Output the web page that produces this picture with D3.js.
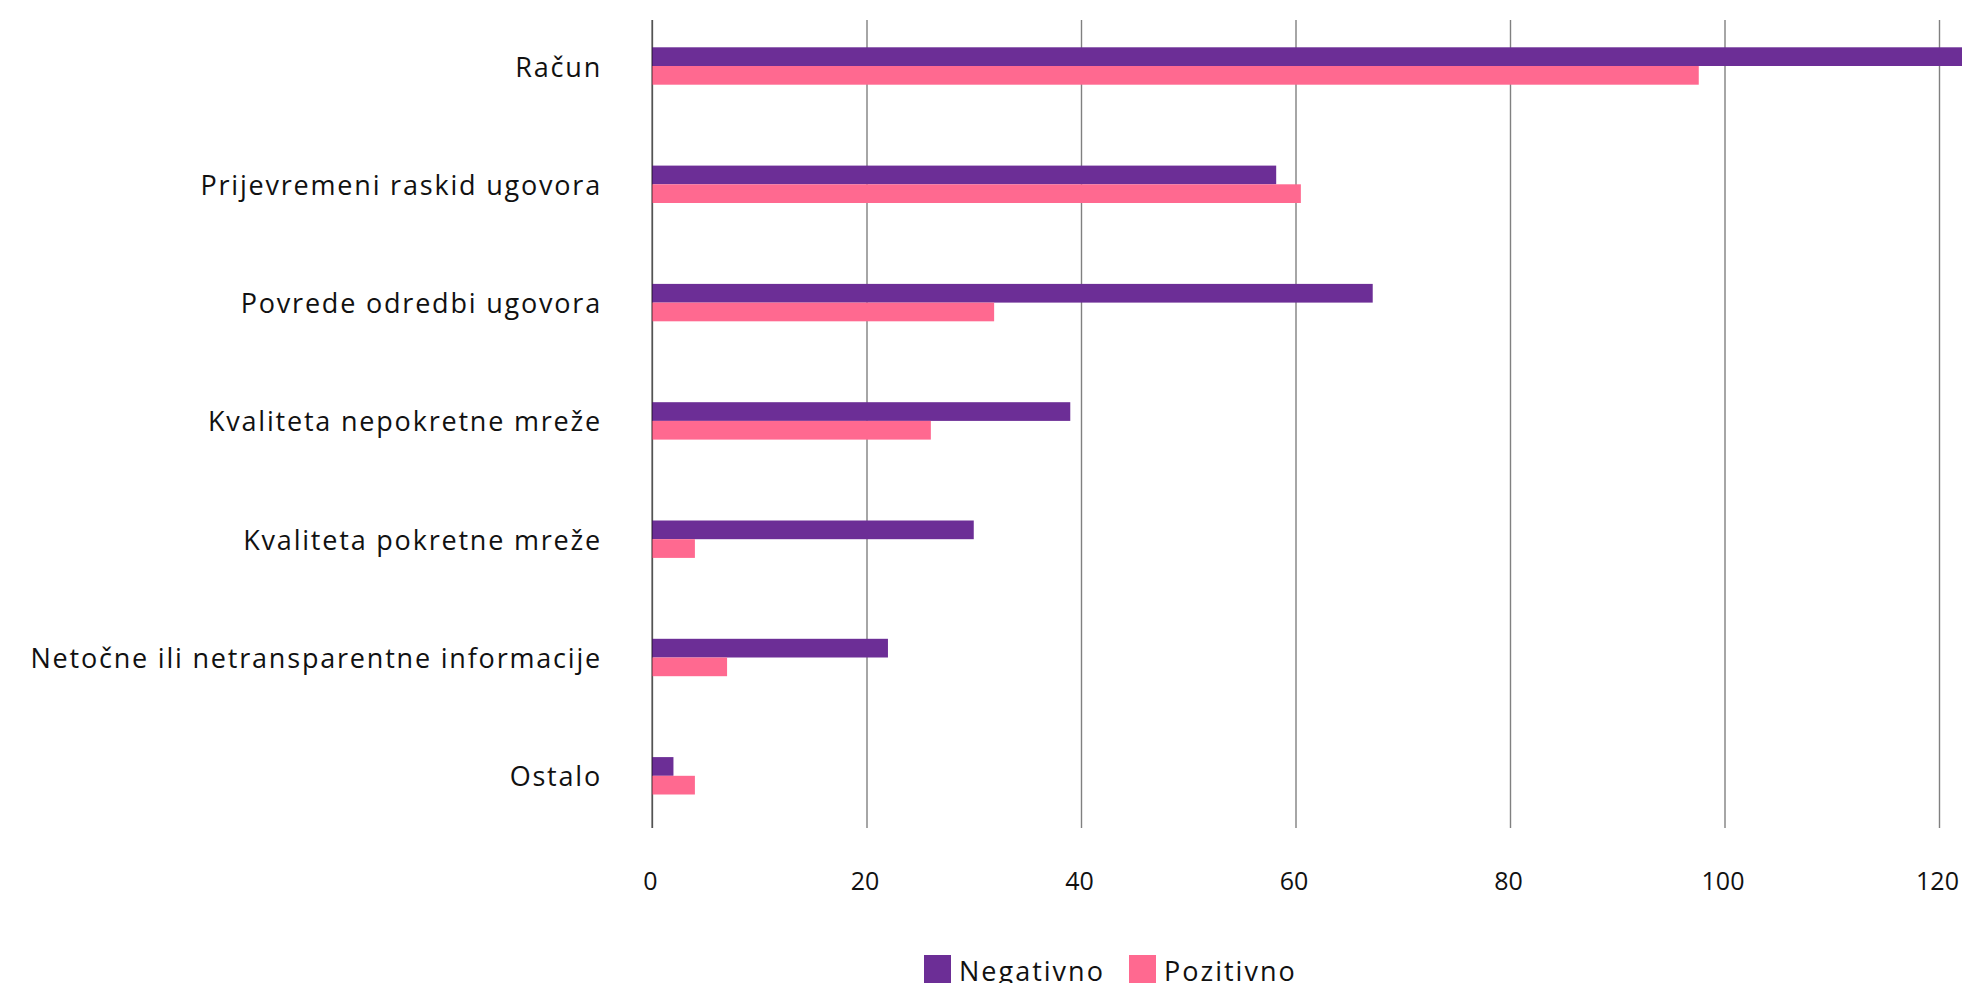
<!DOCTYPE html>
<html>
<head>
<meta charset="utf-8">
<script src="https://cdn.jsdelivr.net/npm/d3@7"></script>
<style>
  html, body { margin: 0; padding: 0; background: #ffffff; }
  svg { display: block; }
  text { font-family: "Open Sans", "Noto Sans", sans-serif; fill: #111111; }
</style>
</head>
<body>
<svg id="chart" width="1962" height="983"></svg>
<script>
const categories = [
  "Račun",
  "Prijevremeni raskid ugovora",
  "Povrede odredbi ugovora",
  "Kvaliteta nepokretne mreže",
  "Kvaliteta pokretne mreže",
  "Netočne ili netransparentne informacije",
  "Ostalo"
];
const seriesNames = ["Negativno", "Pozitivno"];
const negativno = [125, 58.2, 67.2, 39, 30, 22, 2];
const pozitivno = [97.6, 60.5, 31.9, 26, 4, 7, 4];
const tickValues = [0, 20, 40, 60, 80, 100, 120];
const colors = ["#6c2e96", "#ff6990"];

const svg = d3.select("#chart");

const x = d3.scaleLinear().domain([0, 120]).range([652, 1939]);
const y = d3.scaleBand().domain(categories).range([6.85, 834.95]).padding(0);
const groupH = 37.4;
const ySub = d3.scaleBand().domain(seriesNames)
  .range([(y.bandwidth() - groupH) / 2, (y.bandwidth() + groupH) / 2]).padding(0);

const gridTop = 20, gridBottom = 828;

// gridlines + tick labels
const axis = d3.axisBottom(x).tickValues(tickValues).tickSize(-(gridBottom - gridTop))
  .tickPadding(44).tickFormat(d3.format("d"));
const gAxis = svg.append("g").attr("transform", `translate(0,${gridBottom})`).call(axis);
gAxis.select(".domain").remove();
gAxis.selectAll(".tick line").attr("stroke", "#808080").attr("stroke-width", 1.4);
gAxis.selectAll(".tick text").attr("font-size", 25).attr("fill", "#111")
  .style("font-family", "'Open Sans', sans-serif").attr("dx", -2);

// bars
const data = categories.map((c, i) => ({ cat: c, vals: [negativno[i], pozitivno[i]] }));
const groups = svg.append("g").selectAll("g").data(data).join("g")
  .attr("transform", d => `translate(0,${y(d.cat)})`);
groups.selectAll("rect").data(d => d.vals.map((v, j) => ({ s: seriesNames[j], v, j })))
  .join("rect")
  .attr("x", x(0))
  .attr("y", d => ySub(d.s))
  .attr("width", d => x(d.v) - x(0))
  .attr("height", ySub.bandwidth())
  .attr("fill", d => colors[d.j]);

// zero line on top of bars
svg.append("line")
  .attr("x1", x(0)).attr("x2", x(0)).attr("y1", gridTop).attr("y2", gridBottom)
  .attr("stroke", "#000").attr("stroke-opacity", 0.5).attr("stroke-width", 1.4);

// category labels
svg.append("g").selectAll("text").data(categories).join("text")
  .attr("x", 602)
  .attr("y", d => y(d) + y.bandwidth() / 2)
  .attr("text-anchor", "end")
  .attr("dominant-baseline", "central")
  .attr("font-size", 27)
  .attr("letter-spacing", 1.8)
  .text(d => d);

// legend
const legendX = [924, 1129];
const leg = svg.append("g").selectAll("g").data(seriesNames).join("g")
  .attr("transform", (d, i) => `translate(${legendX[i]},955)`);
leg.append("rect").attr("width", 27).attr("height", 28).attr("fill", (d, i) => colors[i]);
leg.append("text").attr("x", 35).attr("y", 26).attr("font-size", 27)
  .attr("letter-spacing", 2).text(d => d);
</script>
</body>
</html>
